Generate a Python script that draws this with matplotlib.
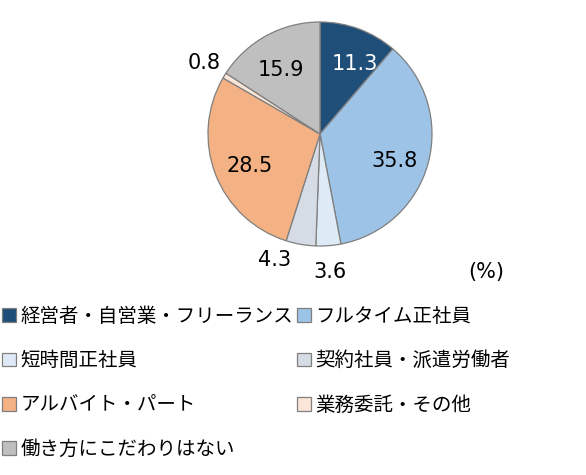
import numpy as np
import matplotlib
matplotlib.use("Agg")
import matplotlib.pyplot as plt

plt.rcParams['font.family'] = ['Noto Sans CJK JP', 'DejaVu Sans']

categories = ['経営者・自営業・フリーランス', 'フルタイム正社員', '短時間正社員',
              '契約社員・派遣労働者', 'アルバイト・パート', '業務委託・その他',
              '働き方にこだわりはない']
values = [11.3, 35.8, 3.6, 4.3, 28.5, 0.8, 15.9]
colors = ['#1f4e79', '#9dc3e6', '#deebf7', '#d6dce5', '#f4b183', '#fbe5d6', '#bfbfbf']
label_colors = ['white', 'black', 'black', 'black', 'black', 'black', 'black']
# radial position of each value label (fraction of radius) and angle tweak (deg)
label_r = [0.70, 0.71, 1.24, 1.20, 0.69, 1.21, 0.67]
label_dang = [-6, -5, 0, -10, 3, 0, 3]

W, H = 586, 475
fig = plt.figure(figsize=(W / 100, H / 100), dpi=100)
ax = fig.add_axes([0, 0, 1, 1])

cx, cy, rad = 320, H - 134, 112
wedges, _ = ax.pie(values, colors=colors, startangle=90, counterclock=False,
                   center=(cx, cy), radius=rad, frame=True,
                   wedgeprops=dict(edgecolor='#7f7f7f', linewidth=0.9))
ax.set_xlim(0, W)
ax.set_ylim(0, H)
ax.set_aspect('equal')
ax.axis('off')

for w, v, c, r, da in zip(wedges, values, label_colors, label_r, label_dang):
    ang = np.deg2rad((w.theta1 + w.theta2) / 2 + da)
    ax.text(cx + r * rad * np.cos(ang), cy + r * rad * np.sin(ang), f'{v:.1f}',
            ha='center', va='center', fontsize=15, color=c,
            family=['DejaVu Sans'])

ax.text(486, H - 272, '(%)', ha='center', va='center', fontsize=15,
        family=['DejaVu Sans'])

# legend fills column-major; reorder so it reads row by row
order = [0, 2, 4, 6, 1, 3, 5]
leg = fig.legend([wedges[i] for i in order], [categories[i] for i in order],
                 ncol=2, loc='upper left',
                 bbox_to_anchor=(0.0, 1 - 304 / H), frameon=False,
                 fontsize=14, handlelength=0.7, handleheight=0.7,
                 handletextpad=0.25, columnspacing=0.2, labelspacing=1.2,
                 borderaxespad=0, borderpad=0.1)

fig.savefig('out.png', dpi=100)
